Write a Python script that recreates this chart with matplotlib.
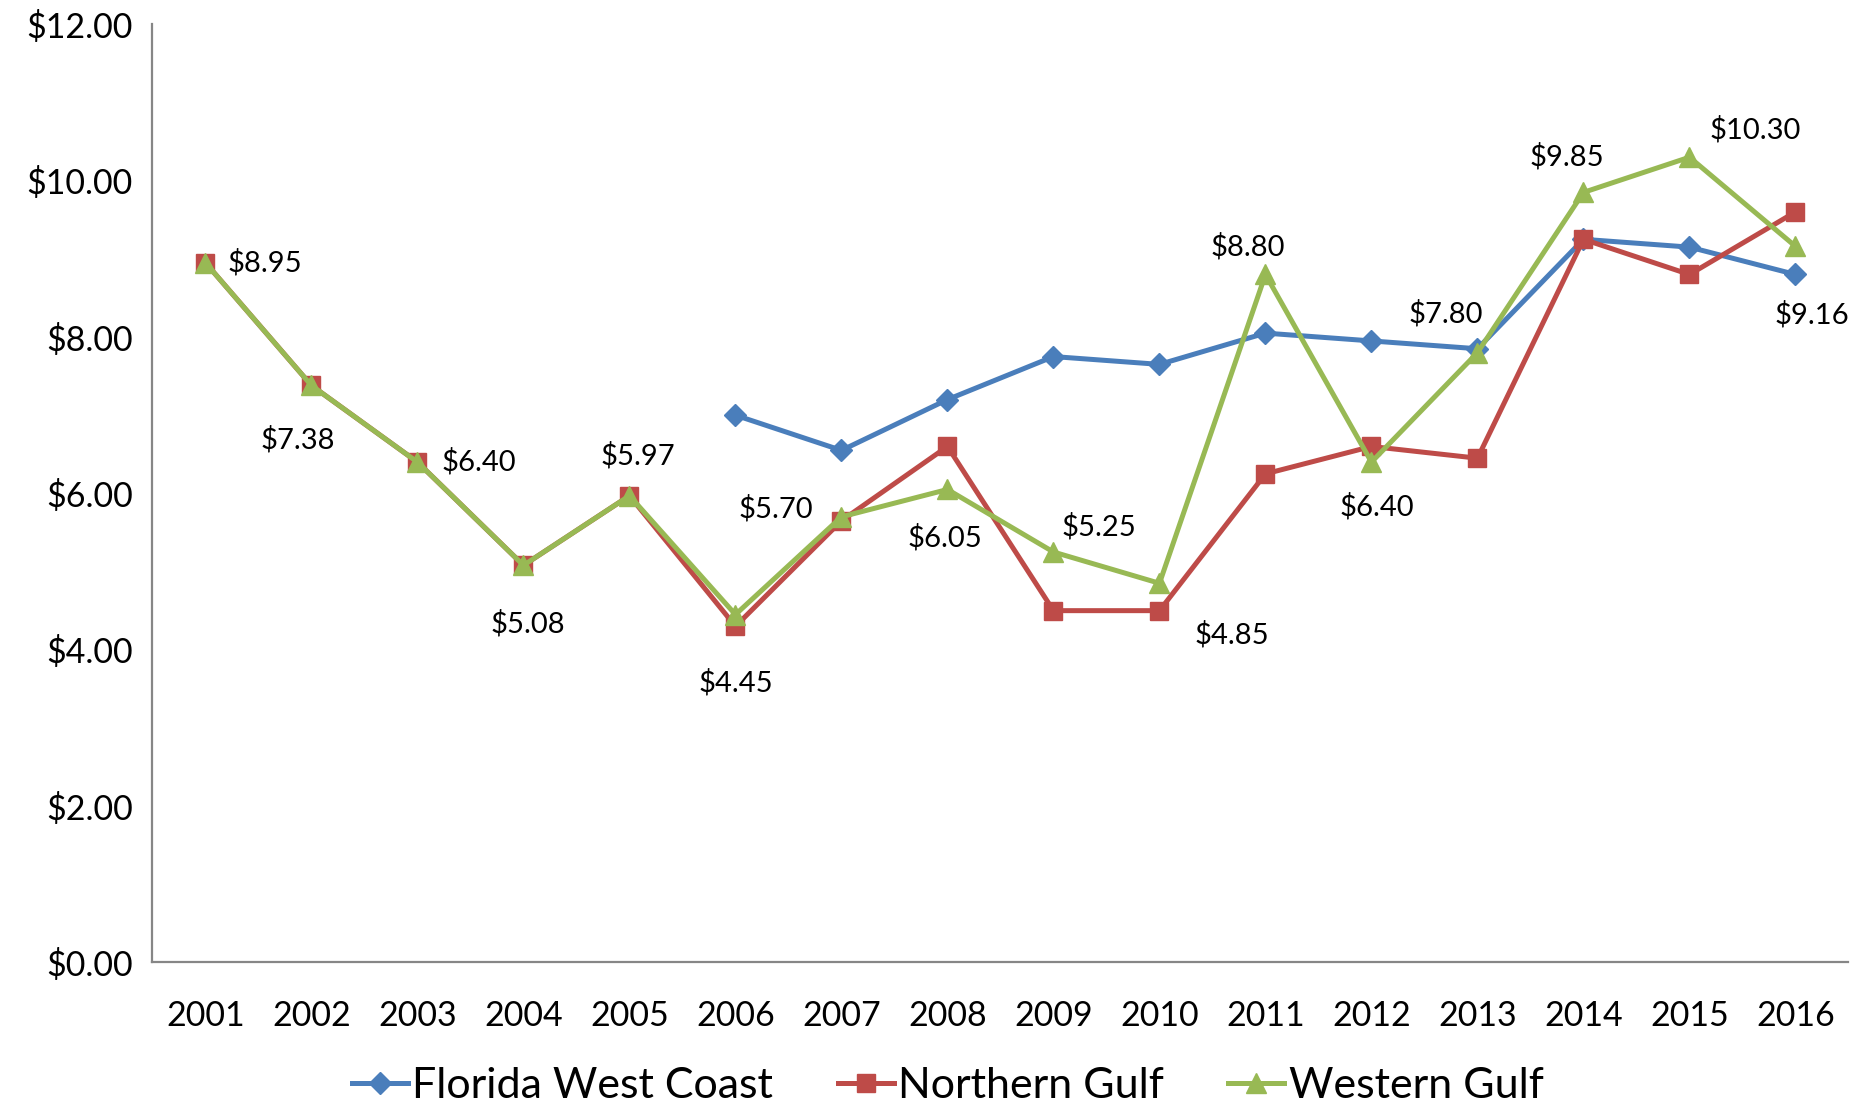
"""Gulf price per pound by region, 2001-2016."""
import numpy as np
import matplotlib.pyplot as plt
from matplotlib.ticker import FuncFormatter

plt.rcParams["font.family"] = ["Lato", "DejaVu Sans"]

years = ["2001", "2002", "2003", "2004", "2005", "2006", "2007", "2008",
         "2009", "2010", "2011", "2012", "2013", "2014", "2015", "2016"]
florida = [np.nan, np.nan, np.nan, np.nan, np.nan, 7.00, 6.55, 7.20,
           7.75, 7.65, 8.05, 7.95, 7.85, 9.25, 9.15, 8.80]
northern = [8.95, 7.38, 6.40, 5.08, 5.97, 4.30, 5.65, 6.60,
            4.50, 4.50, 6.25, 6.60, 6.45, 9.25, 8.80, 9.60]
western = [8.95, 7.38, 6.40, 5.08, 5.97, 4.45, 5.70, 6.05,
           5.25, 4.85, 8.80, 6.40, 7.80, 9.85, 10.30, 9.16]

# label offsets (points) for the western gulf data labels
label_off = [(43, 0), (-10, -39), (44, 0), (3, -42), (6, 29), (0, -49),
             (-47, 6), (-2, -35), (33, 18), (52, -37), (-13, 20), (4, -32),
             (-23, 28), (-12, 26), (47, 20), (12, -49)]

fig = plt.figure(figsize=(18.73, 11.05), dpi=100, facecolor="white")
ax = fig.add_axes([0.0814, 0.129, 0.9055, 0.849])

x = np.arange(len(years))
ax.plot(x, florida, color="#4A7EBB", linewidth=3.6, marker="D", markersize=11,
        label="Florida West Coast", zorder=3)
ax.plot(x, northern, color="#BE4B48", linewidth=3.6, marker="s", markersize=12.5,
        label="Northern Gulf", zorder=4)
ax.plot(x, western, color="#98B954", linewidth=3.6, marker="^", markersize=15,
        label="Western Gulf", zorder=5)

for xi, v, (dx, dy) in zip(x, western, label_off):
    ax.annotate(f"${v:.2f}", (xi, v), xytext=(dx, dy), textcoords="offset points",
                ha="center", va="center", fontsize=21, color="black", zorder=6)

ax.set_xlim(-0.5, len(years) - 0.5)
ax.set_ylim(0, 12)
ax.set_yticks(np.arange(0, 12.01, 2))
ax.yaxis.set_major_formatter(FuncFormatter(lambda v, p: f"${v:.2f}"))
ax.set_xticks(x)
ax.set_xticklabels(years)
ax.tick_params(axis="both", length=0, labelsize=24.5, colors="black")
ax.tick_params(axis="x", pad=27)
ax.tick_params(axis="y", pad=14)

for s in ["top", "right"]:
    ax.spines[s].set_visible(False)
for s in ["left", "bottom"]:
    ax.spines[s].set_color("#868686")
    ax.spines[s].set_linewidth(1.6)

fig.legend(loc="center", bbox_to_anchor=(0.506, 0.017), ncol=3, frameon=False,
           fontsize=31, handlelength=1.3, handletextpad=0.1, columnspacing=1.5,
           borderpad=0)

plt.savefig("out.png", dpi=100, facecolor="white")
